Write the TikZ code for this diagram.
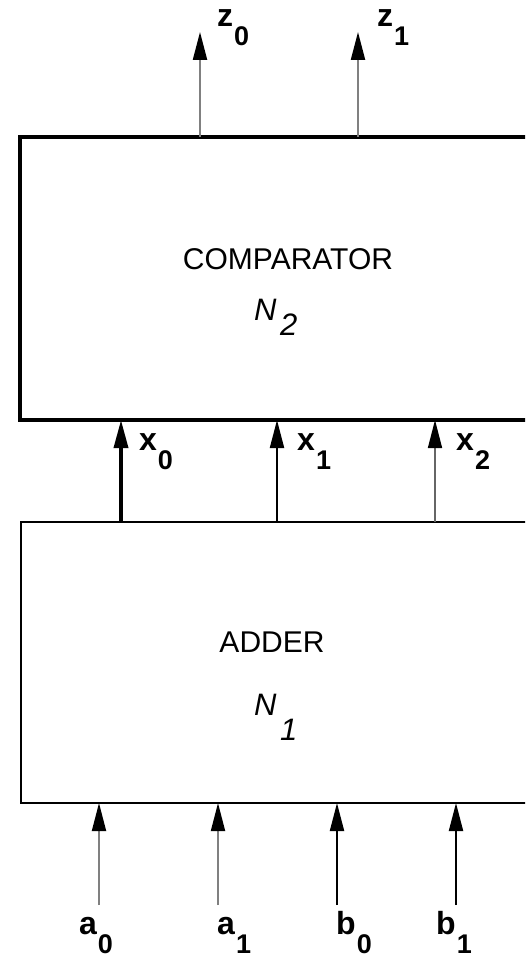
\documentclass[tikz,border=0pt]{standalone}
\usepackage{fontspec}
\setmainfont{Liberation Sans}
\usetikzlibrary{arrows.meta}
\newcommand{\lblsub}[2]{{\fontsize{32}{34}\selectfont #1}\hspace{1pt}\raisebox{-19pt}{#2}}
\begin{document}
\begin{tikzpicture}[x=1pt,y=-1pt,
  box/.style={draw,black,rectangle,outer sep=0pt,inner sep=0pt,anchor=north west},
  sig/.style={-{Triangle[length=28pt,width=14pt,color=black]}},
  lbl/.style={anchor=base west,inner sep=0pt,font=\fontsize{27}{30}\selectfont\bfseries},
  title/.style={anchor=base,inner sep=0pt,font=\fontsize{30}{34}\selectfont},
  nn/.style={anchor=base west,inner sep=0pt,font=\fontsize{31}{33}\selectfont\itshape}]
\useasboundingbox (0,0) rectangle (525,960);
\clip (0,0) rectangle (525,960);
% boxes
\node[box,line width=4pt,minimum width=540pt,minimum height=283pt] (cmp) at (20,137) {};
\node[box,line width=2pt,minimum width=540pt,minimum height=281pt] (add) at (21,522) {};
% texts in boxes
\node[title] (cmpt) at (288,269) {COMPARATOR};
\node[nn] (n2) at (254,320) {N};
\node[nn] (n2s) at (280,335) {2};
\node[title] (addt) at (272,652) {ADDER};
\node[nn] (n1) at (254,715) {N};
\node[nn] (n1s) at (280,740) {1};
% output arrows
\coordinate (pz0) at (200,32);
\coordinate (pz1) at (358,32);
\draw[sig,gray,line width=2.2pt] (cmp.north -| pz0) -- (pz0);
\draw[sig,gray,line width=2.2pt] (cmp.north -| pz1) -- (pz1);
\node[lbl] (lz0) at (217,27) {\lblsub{z}{0}};
\node[lbl] (lz1) at (377,27) {\lblsub{z}{1}};
% internal arrows
\coordinate (px0) at (121,0);
\coordinate (px1) at (277,0);
\coordinate (px2) at (435,0);
\draw[sig,black,line width=3.5pt] (add.north -| px0) -- (cmp.south -| px0);
\draw[sig,black,line width=2pt] (add.north -| px1) -- (cmp.south -| px1);
\draw[sig,gray!80!black,line width=1.5pt] (add.north -| px2) -- (cmp.south -| px2);
\node[lbl] (lx0) at (139,450) {\lblsub{x}{0}};
\node[lbl] (lx1) at (297,450) {\lblsub{x}{1}};
\node[lbl] (lx2) at (456,450) {\lblsub{x}{2}};
% input arrows
\coordinate (pa0) at (99,905);
\coordinate (pa1) at (218,905);
\coordinate (pb0) at (337,905);
\coordinate (pb1) at (456,905);
\draw[sig,gray,line width=1.8pt] (pa0) -- (add.south -| pa0);
\draw[sig,gray,line width=1.8pt] (pa1) -- (add.south -| pa1);
\draw[sig,black,line width=2pt] (pb0) -- (add.south -| pb0);
\draw[sig,black,line width=2pt] (pb1) -- (add.south -| pb1);
\node[lbl] (la0) at (79,934) {\lblsub{a}{0}};
\node[lbl] (la1) at (217,934) {\lblsub{a}{1}};
\node[lbl] (lb0) at (336,934) {\lblsub{b}{0}};
\node[lbl] (lb1) at (436,934) {\lblsub{b}{1}};
\end{tikzpicture}
\end{document}
